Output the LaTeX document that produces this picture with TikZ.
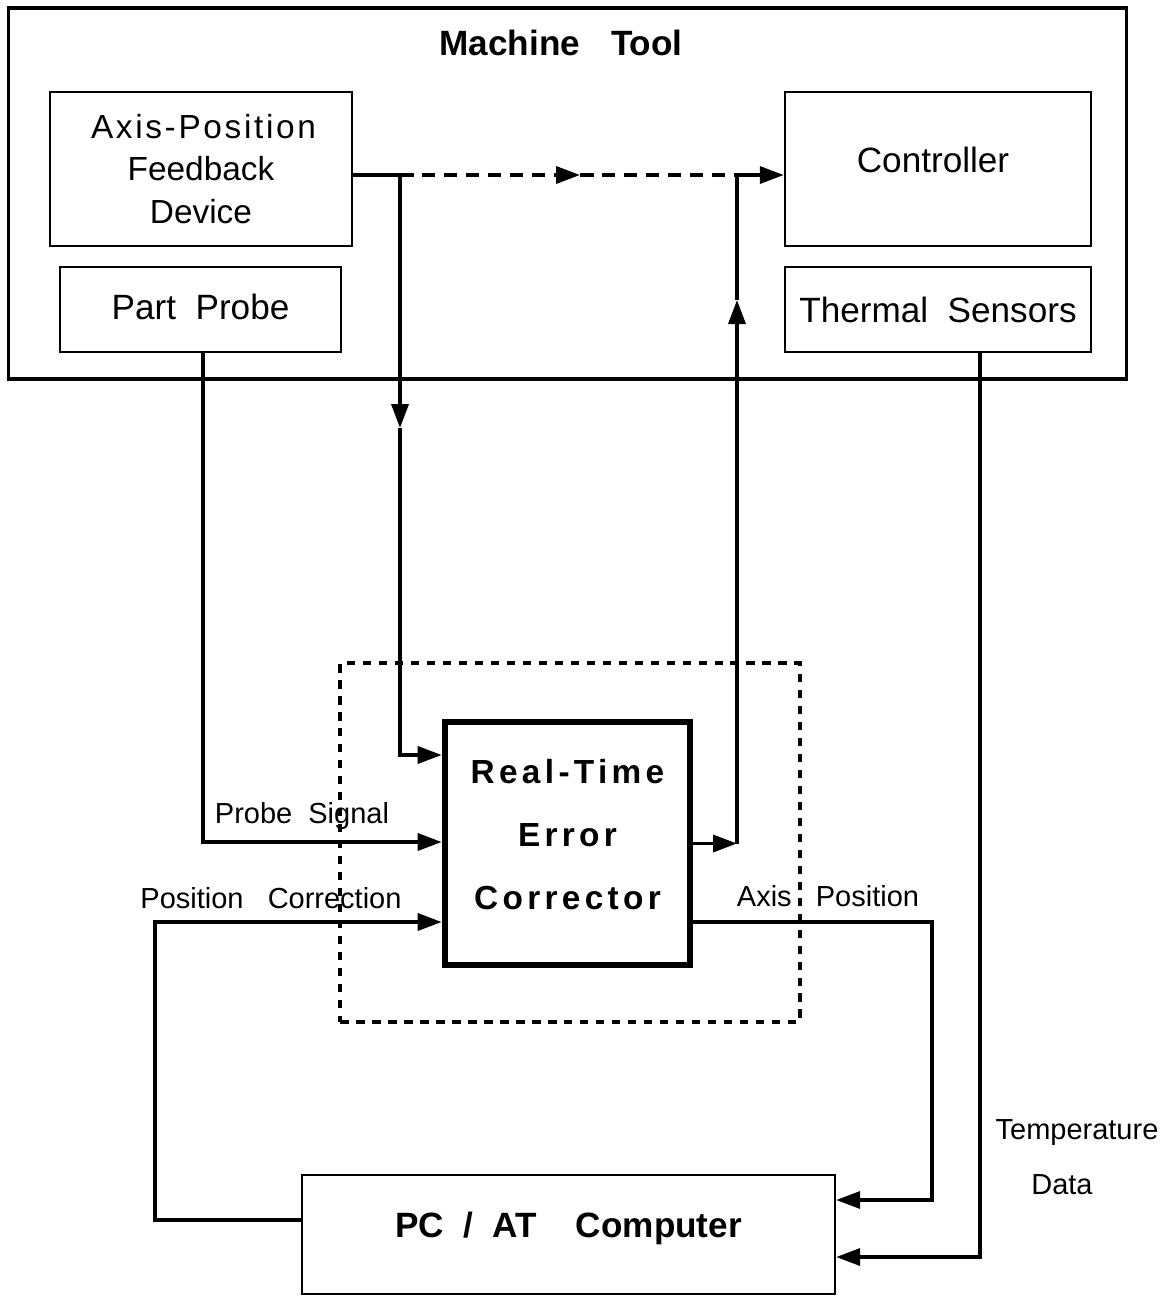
\documentclass[tikz,border=0pt]{standalone}
\usepackage{fontspec}
\setmainfont{Liberation Sans}
\usetikzlibrary{arrows.meta,positioning,calc}
\tikzset{
  framebox/.style={
    draw=black,
    line width=1.8pt,
    inner sep=0pt
  },
  blockbox/.style={
    draw=black,
    line width=1.4pt,
    align=center,
    inner sep=0pt,
    font=\fontsize{20}{24}\selectfont
  },
  corebox/.style={
    draw=black,
    line width=3.8pt,
    align=center,
    inner sep=0pt,
    font=\bfseries\fontsize{19}{36}\selectfont\addfontfeature{LetterSpace=13}
  },
  linklabel/.style={
    inner sep=0pt,
    font=\fontsize{16.5}{26}\selectfont
  },
  conn/.style={
    line width=2pt,
    draw=black
  },
  tip/.style={
    -{Triangle[length=0.48cm,width=0.34cm]}
  },
  dashconn/.style={
    conn,
    dash pattern=on 0.27cm off 0.17cm
  }
}

\begin{document}
\begin{tikzpicture}[x=0.02cm,y=-0.02cm]
\useasboundingbox (0,0) rectangle (1171,1296);

% machine tool
\node[framebox, minimum width=22.38cm, minimum height=7.42cm] (mt) at (567.5,193.5) {};
\node[inner sep=0pt, font=\bfseries\fontsize{20}{24}\selectfont] (mttitle) at (561,43) {Machine\hspace{0.62cm}Tool};
\node[blockbox, minimum width=6.04cm, minimum height=3.08cm, font=\fontsize{19}{24}\selectfont] (apfd) at (201,169)
  {\hspace{0.1cm}{\addfontfeature{LetterSpace=8}Axis-Position}\\Feedback\hspace{0.1cm}\\Device\hspace{0.25cm}};
\node[blockbox, minimum width=5.62cm, minimum height=1.70cm, text depth=0.12cm] (pp) at (200.5,309.5) {Part~~Probe};
\node[blockbox, minimum width=6.12cm, minimum height=3.08cm, text depth=0.36cm] (ctrl) at (938,169) {Controller\hspace{0.2cm}};
\node[blockbox, minimum width=6.12cm, minimum height=1.70cm] (ts) at (938,309.5) {Thermal~~Sensors};

% corrector and pc
\node[draw=black, line width=1.8pt, dash pattern=on 0.17cm off 0.15cm, minimum width=9.20cm, minimum height=7.18cm] (frame) at (570,842.5) {};
\node[corebox, minimum width=4.90cm, minimum height=4.86cm, text depth=0.36cm] (rtec) at (567.5,843.5) {Real-Time\\Error\\Corrector};
\node[blockbox, minimum width=10.66cm, minimum height=2.38cm, text depth=0.40cm, font=\bfseries\fontsize{20}{24}\selectfont] (pc) at (568.5,1234.5) {PC~~/~~AT~~~~Computer};

% junctions
\coordinate (fbout) at (352,175);
\coordinate (split) at (400,175);
\coordinate (dmid) at (580,175);
\coordinate (merge) at (737,175);
\coordinate (downmid) at (400,428);
\coordinate (fbrow) at (400,755);
\coordinate (upmid) at (737,300);
\coordinate (probex) at (203,842);
\coordinate (corrL) at (155,1220);
\coordinate (corrrow) at (155,922);
\coordinate (axrow) at (932,922);
\coordinate (axin) at (932,1200);
\coordinate (tempin) at (980,1257);

% links
\draw[conn] (fbout) -- (split);
\draw[dashconn, tip] (split) -- (dmid);
\draw[dashconn] (dmid) -- (merge);
\draw[conn, tip] (merge) -- (ctrl.west |- merge);
\draw[conn, tip] (split) -- (downmid);
\draw[conn, tip] (downmid) -- (fbrow) -- (rtec.west |- fbrow);
\draw[conn, tip] (rtec.east) -- (rtec.east -| merge);
\draw[conn, tip] (rtec.east -| merge) -- (upmid);
\draw[conn] (upmid) -- (merge);
\draw[conn, tip] (pp.south -| probex) -- (probex) -- (rtec.west |- probex);
\draw[conn, tip] (pc.west |- corrL) -- (corrL) -- (corrrow) -- (rtec.west |- corrrow);
\draw[conn, tip] (rtec.east |- axrow) -- (axrow) -- (axin) -- (pc.east |- axin);
\draw[conn, tip] (ts.south -| tempin) -- (tempin) -- (pc.east |- tempin);

% labels
\node[linklabel] (lprobe) at (302,816) {Probe~~Signal};
\node[linklabel] (lcorr) at (271,898) {Position~~~Correction};
\node[linklabel] (laxis) at (828,896) {Axis~~~Position};
\node[linklabel] (ltemp) at (1077,1133) {Temperature};
\node[linklabel] (ldata) at (1062,1185) {Data};
\end{tikzpicture}
\end{document}
